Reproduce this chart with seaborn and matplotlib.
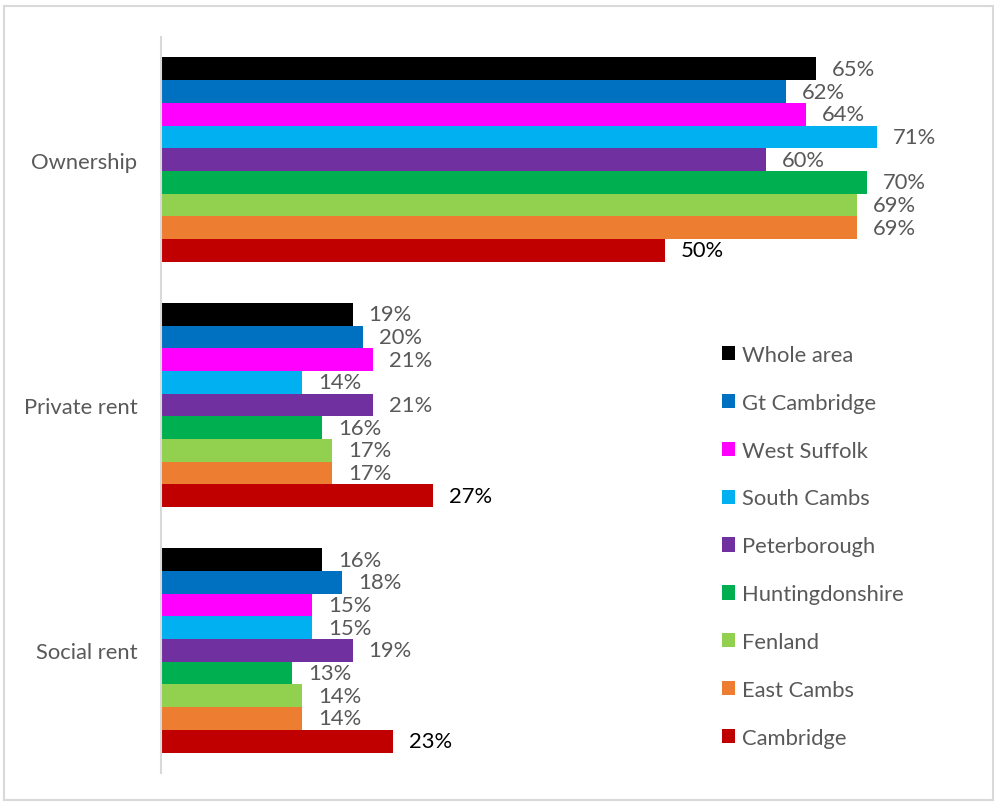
import matplotlib
matplotlib.use("Agg")
import matplotlib.pyplot as plt
import matplotlib.patches as mpatches
import seaborn as sns
import pandas as pd

# Housing tenure shares by area
tenures = ["Ownership", "Private rent", "Social rent"]
areas = ["Whole area", "Gt Cambridge", "West Suffolk", "South Cambs", "Peterborough",
         "Huntingdonshire", "Fenland", "East Cambs", "Cambridge"]
ownership = [65, 62, 64, 71, 60, 70, 69, 69, 50]
private_rent = [19, 20, 21, 14, 21, 16, 17, 17, 27]
social_rent = [16, 18, 15, 15, 19, 13, 14, 14, 23]
colors = ["#000000", "#0070C0", "#FF00FF", "#00B0F0", "#7030A0",
          "#00B050", "#92D050", "#ED7D31", "#C00000"]

rows = []
for tenure, vals in zip(tenures, [ownership, private_rent, social_rent]):
    for area, v in zip(areas, vals):
        rows.append({"Tenure": tenure, "Area": area, "Share": v})
df = pd.DataFrame(rows)

sns.set_style("white")
plt.rcParams["font.family"] = ["Lato", "DejaVu Sans"]

FS = 15.8
W, H = 997, 804
fig = plt.figure(figsize=(W / 100, H / 100), dpi=100)
ax_left, ax_right, ax_top, ax_bottom = 161, 960, 38, 774
ax = fig.add_axes([ax_left / W, 1 - ax_bottom / H, (ax_right - ax_left) / W, (ax_bottom - ax_top) / H])

sns.barplot(data=df, y="Tenure", x="Share", hue="Area", hue_order=areas, order=tenures,
            palette=colors, orient="h", width=0.833, saturation=1, linewidth=0,
            ax=ax, legend=False)

px_per_unit = 10.08
ax.set_xlim(0, (ax_right - ax_left) / px_per_unit)
ax.set_ylim(2.5, -0.5)

label_gray = "#595959"
for container, area in zip(ax.containers, areas):
    ax.bar_label(container, fmt="%d%%", padding=11.5, fontsize=FS,
                 color="#000000" if area == "Cambridge" else label_gray)

ax.set_xlabel("")
ax.set_ylabel("")
ax.set_xticks([])
ax.tick_params(axis="y", length=0, pad=17, labelsize=FS, labelcolor=label_gray)
for side in ["top", "right", "bottom"]:
    ax.spines[side].set_visible(False)
ax.spines["left"].set_color("#D9D9D9")
ax.spines["left"].set_linewidth(1.5)

handles = [mpatches.Patch(facecolor=c, edgecolor="none", label=a) for a, c in zip(areas, colors)]
leg = fig.legend(handles=handles, loc="upper left", bbox_to_anchor=(713 / W, 1 - 337 / H),
                 frameon=False, fontsize=FS, handlelength=0.62, handleheight=0.62,
                 handletextpad=0.3, labelspacing=1.27, borderaxespad=0)
for t in leg.get_texts():
    t.set_color(label_gray)

fig.patches.append(mpatches.Rectangle((4 / W, 1 - 801 / H), 989 / W, 794 / H,
                                      transform=fig.transFigure, fill=False,
                                      edgecolor="#D9D9D9", linewidth=1.5))

fig.savefig("out.png", dpi=100)
